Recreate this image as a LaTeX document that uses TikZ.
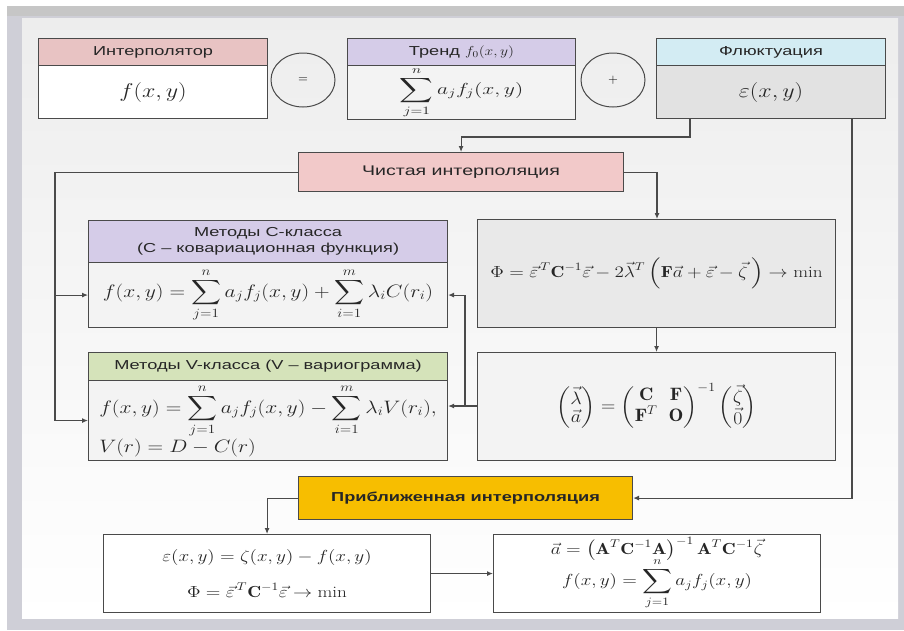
\documentclass[tikz,border=0pt]{standalone}
\usepackage{fix-cm}
\usepackage{amsmath}
\usepackage{graphicx}
\usepackage{fontspec}
\newfontfamily\hdrfont[FakeStretch=1.4]{Liberation Sans}
\usetikzlibrary{arrows.meta,shapes.geometric,calc}
\definecolor{linec}{HTML}{4A4A4A}
\definecolor{pinkH}{HTML}{E8C3C3}
\definecolor{lavH}{HTML}{D5CCE8}
\definecolor{cyanH}{HTML}{D3ECF3}
\definecolor{greenH}{HTML}{D5E3BA}
\definecolor{pureC}{HTML}{F2C9C9}
\definecolor{goldC}{HTML}{F7BE00}
\definecolor{grayB}{HTML}{E2E2E2}
\definecolor{lightB}{HTML}{F3F3F3}
\definecolor{phiB}{HTML}{E9E9E9}
\definecolor{frameC}{HTML}{CFCFD7}
\definecolor{txt}{HTML}{262626}
\newcommand{\fml}[3][1.2]{{\fontsize{#2}{#2}\selectfont\scalebox{#1}[1]{$\displaystyle #3$}}}
\tikzset{
  box/.style={draw=linec, line width=1.1pt, inner sep=0pt, anchor=north west, align=center, text=txt},
  hdr/.style={box, font=\hdrfont\fontsize{13}{16}\selectfont},
  oval/.style={ellipse, draw=linec, line width=1pt, inner sep=0pt, minimum width=64pt, minimum height=54pt},
  ln/.style={draw=linec, line width=1.1pt},
  arr/.style={ln, -{Latex[length=6pt,width=5pt]}},
}
\begin{document}
\begin{tikzpicture}[x=1pt,y=-1pt]
\useasboundingbox (0,0) rectangle (904,630);
\fill[white] (0,0) rectangle (904,630);
\fill[frameC] (7,6) rectangle (904,630);
\fill[gray!45] (7,6) rectangle (904,16);
\shade[top color=gray!14, bottom color=white] (22,18) rectangle (898,618);

% top row
\node[hdr, fill=pinkH, minimum width=229pt, minimum height=27pt] (interpH) at (38,38) {Интерполятор};
\node[box, fill=white, minimum width=229pt, minimum height=53pt] (interpB) at (38,65) {\fml{20}{f(x,y)}};
\node[oval] (eq) at (303,80) {\fontsize{13}{13}\selectfont$=$};
\node[hdr, fill=lavH, minimum width=228pt, minimum height=27pt] (trendH) at (347,38) {Тренд \scalebox{1.2}[1]{$f_0(x,y)$}};
\node[box, fill=lightB, minimum width=228pt, minimum height=54pt] (trendB) at (347,65) {\fml[1.35]{16}{\sum_{j=1}^{n} a_j f_j(x,y)}};
\node[oval] (plus) at (613,80) {\fontsize{13}{13}\selectfont$+$};
\node[hdr, fill=cyanH, minimum width=229pt, minimum height=27pt] (flH) at (656,38) {Флюктуация};
\node[box, fill=grayB, minimum width=229pt, minimum height=53pt] (flB) at (656,65) {\fml{20}{\varepsilon(x,y)}};

% pure interpolation
\node[hdr, fill=pureC, minimum width=325pt, minimum height=39pt, font=\hdrfont\fontsize{14}{16}\selectfont] (pure) at (298,152) {Чистая интерполяция};

% C-class
\node[hdr, fill=lavH, minimum width=359pt, minimum height=42pt] (cH) at (88,220) {Методы С-класса\\(С – ковариационная функция)};
\node[box, fill=lightB, minimum width=359pt, minimum height=65pt] (cB) at (88,262) {\fml{18}{f(x,y)=\sum_{j=1}^{n} a_j f_j(x,y)+\sum_{i=1}^{m}\lambda_i C(r_i)}};

% V-class
\node[hdr, fill=greenH, minimum width=359pt, minimum height=28pt] (vH) at (88,352) {Методы V-класса (V – вариограмма)};
\node[box, fill=lightB, minimum width=359pt, minimum height=80pt, align=left] (vB) at (88,380) {\fml{18}{f(x,y)=\sum_{j=1}^{n} a_j f_j(x,y)-\sum_{i=1}^{m}\lambda_i V(r_i),}\\[0pt]\fml{18}{V(r)=D-C(r)}};

% right column
\node[box, fill=phiB, minimum width=358pt, minimum height=108pt] (phi) at (477,219) {\fml{16}{\Phi=\vec{\varepsilon}^{\,T}\mathbf{C}^{-1}\vec{\varepsilon}-2\vec{\lambda}^{T}\left(\mathbf{F}\vec{a}+\vec{\varepsilon}-\vec{\zeta}\,\right)\rightarrow\min}};
\node[box, fill=lightB, minimum width=358pt, minimum height=108pt] (mat) at (477,352) {\fml[1.1]{18}{\begin{pmatrix}\vec{\lambda}\\ \vec{a}\end{pmatrix}=\begin{pmatrix}\mathbf{C} & \mathbf{F}\\ \mathbf{F}^{T} & \mathbf{O}\end{pmatrix}^{-1}\begin{pmatrix}\vec{\zeta}\\ \vec{0}\end{pmatrix}}};

% approximate interpolation
\node[box, fill=goldC, minimum width=334pt, minimum height=43pt, font=\hdrfont\bfseries\fontsize{13}{16}\selectfont] (approx) at (298,476) {Приближенная интерполяция};
\node[box, fill=white, minimum width=327pt, minimum height=78pt] (bl) at (103,534) {\fml{16}{\varepsilon(x,y)=\zeta(x,y)-f(x,y)}\\[16pt]\fml{16}{\Phi=\vec{\varepsilon}^{\,T}\mathbf{C}^{-1}\vec{\varepsilon}\rightarrow\min}};
\node[box, fill=white, minimum width=327pt, minimum height=78pt] (br) at (493,534) {\fml{16}{\vec{a}=\left(\mathbf{A}^{T}\mathbf{C}^{-1}\mathbf{A}\right)^{-1}\mathbf{A}^{T}\mathbf{C}^{-1}\vec{\zeta}}\\[-4pt]\fml{16}{f(x,y)=\sum_{j=1}^{n} a_j f_j(x,y)}};

% helper coordinates
\coordinate (f1) at (690,118);
\coordinate (f1b) at (690,137);
\coordinate (f2) at (852,118);
\coordinate (L) at (55,172);
\coordinate (R) at (465,406);
\coordinate (phiin) at (657,219);

% connectors
\draw[arr] (f1) -- (f1b) -| (pure.north);
\draw[arr] (f2) |- (approx.east);
\draw[arr] (pure.east) -| (phiin);
\draw[arr] (pure.west) -| (L) |- (vB.west);
\draw[arr] (L |- cB.west) -- (cB.west);
\draw[arr] (phi.south) -- (mat.north);
\draw[arr] (mat.west |- R) -- (vB.east |- R);
\draw[arr] (R) |- (cB.east);
\draw[arr] (approx.west) -| (bl.north);
\draw[arr] (bl.east) -- (br.west);
\end{tikzpicture}
\end{document}
